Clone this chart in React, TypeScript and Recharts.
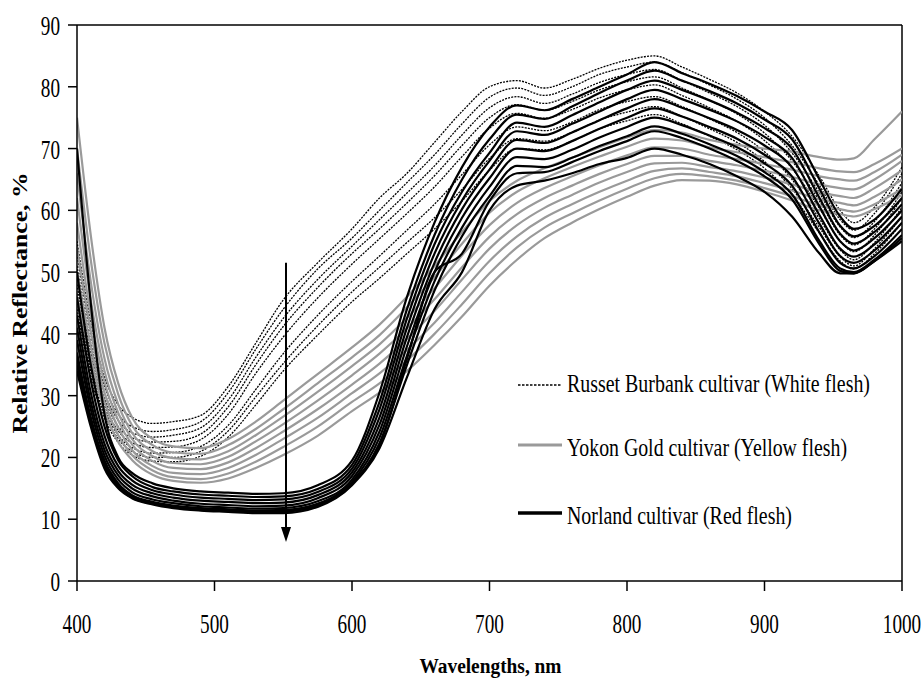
import React from "react";
import { LineChart, Line, XAxis, YAxis, ReferenceLine, Label } from "recharts";

// Wavelength grid (nm)
const WAVELENGTHS = [400, 410, 420, 430, 440, 455, 470, 490, 510, 530, 550, 575, 600, 620, 640, 660, 680, 700, 720, 740, 760, 780, 800, 820, 840, 860, 880, 900, 920, 940, 955, 965, 980, 1000];

const X_TICKS = [400, 500, 600, 700, 800, 900, 1000];
const Y_TICKS = [0, 10, 20, 30, 40, 50, 60, 70, 80, 90];

// Russet Burbank (white flesh) spectra, %
const russet = [
  [55, 42, 33, 28.5, 26.5, 25.5, 25.8, 26.8, 31.5, 38.5, 45.5, 51.5, 57, 62, 66, 71, 76, 80, 81, 79.8, 81.2, 83, 84.3, 85, 83.2, 81.2, 79, 76, 72, 65.5, 60, 58, 60.5, 67],
  [53, 40, 31.5, 27, 25, 24.2, 24.5, 25.8, 30.5, 37.5, 44, 50.5, 55.5, 60, 64.5, 69, 74, 78.3, 79.8, 78.6, 80, 82, 83.2, 84, 82.3, 80.3, 78, 75, 70.5, 64, 58.5, 56.8, 59.5, 66],
  [51, 38.5, 30.5, 26, 24, 23.3, 23.6, 24.8, 29.3, 36.2, 42.5, 48.8, 54.2, 58.5, 62.8, 67.2, 72.2, 76.6, 78.4, 77.3, 78.8, 80.7, 82, 82.8, 81, 79, 76.8, 73.8, 69.3, 62.8, 57.3, 55.6, 58.2, 64.5],
  [50, 37, 29.5, 25, 23.2, 22.5, 22.6, 23.8, 28.2, 35, 41.2, 47.5, 53, 57, 61.2, 65.6, 70.5, 75, 77.1, 76.2, 77.6, 79.5, 80.8, 81.6, 79.8, 77.8, 75.6, 72.5, 68, 61.5, 56, 54.4, 57, 63],
  [48, 36, 28.5, 24.3, 22.4, 21.6, 21.7, 22.9, 27, 33.6, 39.5, 45.8, 51.3, 55.4, 59.5, 63.8, 68.7, 73.3, 75.7, 74.9, 76.3, 78.2, 79.5, 80.3, 78.6, 76.6, 74.4, 71.3, 66.8, 60.3, 55, 53.3, 56, 62],
  [46.5, 35, 27.8, 23.6, 21.6, 20.7, 20.8, 21.8, 25.2, 31, 36.8, 43, 48.5, 52.6, 56.8, 61, 65.8, 70.6, 73.5, 72.9, 74.3, 76.3, 77.6, 78.4, 76.8, 74.8, 72.6, 69.5, 65, 58.6, 53.6, 52, 54.8, 60.5],
  [45.5, 34, 27, 23, 21, 20, 20, 21, 24.3, 29.8, 35.2, 41.3, 46.8, 50.8, 54.8, 58.8, 63.4, 68.4, 71.6, 71.2, 72.6, 74.6, 75.9, 76.8, 75.2, 73.2, 71, 67.9, 63.5, 57.2, 52.5, 51, 53.8, 59],
  [44, 33, 26.3, 22.4, 20.4, 19.4, 19.3, 20.2, 23.3, 28.5, 34, 39.8, 45.2, 49, 53, 57, 61.5, 66.5, 70, 69.8, 71.2, 73.2, 74.5, 75.5, 74, 72, 69.8, 66.8, 62.5, 56.3, 51.8, 50.5, 53, 58],
];

// Yukon Gold (yellow flesh) spectra, %
const yukon = [
  [75, 56, 41, 32, 26.5, 23, 21.8, 21.5, 23, 25.8, 29.2, 33.5, 37.8, 41.5, 46, 51, 56.5, 61.5, 64.8, 66.8, 68.5, 70.2, 71.8, 73, 72.6, 71.4, 70.6, 70, 69.5, 68.6, 68.2, 68.4, 71.5, 76],
  [70, 52, 38.5, 30.2, 25.2, 22, 20.8, 20.6, 22, 24.6, 27.8, 32, 36.2, 39.8, 44.3, 49.2, 54.6, 59.6, 63, 65.2, 67, 68.7, 70.3, 71.6, 71.3, 70.2, 69.4, 68.6, 67.8, 66.8, 66.3, 66.2, 67.5, 70],
  [66, 48.5, 36, 28.6, 24, 21, 19.9, 19.7, 21, 23.6, 26.6, 30.6, 34.8, 38.3, 42.6, 47.4, 52.7, 57.6, 61.2, 63.6, 65.5, 67.3, 68.9, 70.2, 70, 69, 68.3, 67.5, 66.6, 65.5, 65, 64.8, 66.2, 69],
  [62, 45.5, 34, 27.2, 23, 20.2, 19.1, 18.9, 20.1, 22.6, 25.4, 29.2, 33.3, 36.8, 40.9, 45.6, 50.8, 55.7, 59.4, 62, 64, 65.9, 67.5, 68.8, 68.8, 68, 67.3, 66.4, 65.4, 64.2, 63.6, 63.4, 65, 68],
  [58, 43, 32.2, 26, 22.1, 19.4, 18.3, 18.1, 19.2, 21.5, 24.2, 27.8, 31.8, 35.2, 39.2, 43.7, 48.8, 53.8, 57.6, 60.4, 62.5, 64.5, 66.2, 67.6, 67.7, 67, 66.3, 65.3, 64.2, 62.9, 62.3, 62, 63.6, 66.5],
  [54, 40.5, 30.5, 24.8, 21.2, 18.6, 17.5, 17.3, 18.3, 20.4, 23, 26.4, 30.4, 33.6, 37.4, 41.8, 46.8, 51.8, 55.8, 58.8, 61, 63, 64.8, 66.4, 66.8, 66.2, 65.5, 64.4, 63.2, 61.8, 61.2, 60.8, 62.2, 65],
  [50, 38, 29, 23.6, 20.4, 17.9, 16.8, 16.5, 17.4, 19.3, 21.7, 25, 29, 32, 35.7, 40, 44.8, 49.8, 54, 57.2, 59.5, 61.6, 63.5, 65.2, 65.9, 65.5, 64.8, 63.6, 62.3, 60.8, 60.2, 59.8, 61, 63.5],
  [46, 36, 27.5, 22.5, 19.6, 17.2, 16.2, 15.9, 16.6, 18.3, 20.4, 23.5, 27.5, 30.5, 34, 38.2, 42.8, 47.8, 52, 55.5, 58, 60.2, 62.2, 64, 64.9, 64.8, 64.2, 63, 61.6, 60, 59.4, 59, 60.2, 62.5],
];

// Norland (red flesh) spectra, %
const norland = [
  [70, 45, 27, 20, 17.5, 15.8, 15, 14.5, 14.3, 14.1, 14.2, 15.5, 19.5, 30.5, 46, 58, 67, 73.5, 77, 76.2, 78, 80, 82, 84, 82.2, 80.5, 78.5, 76, 73, 65, 59, 57, 58.5, 63.5],
  [50, 35, 25, 19.5, 17, 15.2, 14.5, 14, 13.8, 13.6, 13.7, 14.9, 18.8, 29, 44, 56, 65, 71.5, 75.5, 74.8, 76.8, 79, 81, 82.6, 81, 79.3, 77.3, 74.7, 71.5, 63.5, 57.5, 55.8, 57.5, 62],
  [46, 32.5, 23.5, 18.6, 16.3, 14.7, 14, 13.5, 13.3, 13.1, 13.2, 14.4, 18.2, 27.8, 42.5, 54.5, 63, 69.3, 74.2, 73.5, 75.4, 77.5, 79.5, 81, 79.5, 77.8, 75.8, 73.3, 70, 62, 56.2, 54.6, 56.5, 61],
  [43, 30.5, 22.2, 17.8, 15.6, 14.2, 13.5, 13, 12.8, 12.6, 12.7, 13.9, 17.6, 26.5, 41, 53, 61.6, 68, 72.8, 72.2, 74, 76, 78, 79.5, 78, 76.3, 74.4, 71.9, 68.5, 60.6, 55, 53.5, 55.5, 60],
  [41, 29, 21.2, 17.1, 15, 13.7, 13, 12.5, 12.3, 12.1, 12.2, 13.4, 17, 25.3, 39.5, 51.5, 60.2, 66.6, 71.4, 70.9, 72.6, 74.6, 76.5, 78, 76.6, 74.9, 73, 70.5, 67, 59.2, 53.8, 52.5, 54.5, 59],
  [39, 27.8, 20.3, 16.4, 14.4, 13.2, 12.6, 12.1, 11.9, 11.7, 11.8, 12.9, 16.4, 24.2, 38, 50, 58.8, 65.2, 70, 69.6, 71.2, 73.2, 75, 76.5, 75.2, 73.5, 71.6, 69, 65.5, 57.8, 52.6, 51.5, 53.5, 58],
  [37, 26.5, 19.5, 15.8, 13.9, 12.8, 12.2, 11.8, 11.6, 11.4, 11.5, 12.5, 16, 23.2, 36.5, 48.5, 57.2, 63.8, 68.6, 68.3, 69.8, 71.8, 73.5, 75, 73.8, 72.1, 70.2, 67.6, 64, 56.4, 51.5, 50.6, 52.6, 57],
  [35, 25.5, 18.7, 15.2, 13.5, 12.5, 12, 11.5, 11.3, 11.1, 11.2, 12.2, 15.7, 22.3, 35, 47, 55.8, 62.3, 67.2, 67, 68.5, 70.4, 72, 73.6, 72.4, 70.7, 68.8, 66.2, 62.6, 55, 50.6, 50, 52, 56],
  [36, 26, 19, 15.5, 13.7, 12.6, 12.1, 11.7, 11.5, 11.3, 11.4, 12.4, 15.9, 22, 36, 50, 53, 61.5, 66, 66.2, 67.8, 69.6, 71.2, 72.8, 71.7, 70, 68, 65.5, 61.8, 54.5, 50.2, 49.8, 51.8, 55.5],
  [34, 25, 18.2, 15, 13.4, 12.4, 11.8, 11.4, 11.2, 11, 11, 12, 15.5, 21.5, 33, 44, 50, 60, 64, 64.8, 66, 67.5, 68.5, 70, 69, 67.5, 65.5, 63, 59, 53, 49.8, 49.8, 51.8, 55],
];

// Arrow annotation (wavelength, from-value, to-value)
const ARROW = { x: 552, from: 51.5, to: 6.3 };

const LEGEND_ITEMS = [
  { label: "Russet Burbank cultivar (White flesh)", kind: "russet" },
  { label: "Yokon Gold cultivar (Yellow flesh)", kind: "yukon" },
  { label: "Norland cultivar (Red flesh)", kind: "norland" },
];

const data = WAVELENGTHS.map((w, i) => {
  const row: Record<string, number> = { w };
  russet.forEach((c, k) => (row["r" + k] = c[i]));
  yukon.forEach((c, k) => (row["y" + k] = c[i]));
  norland.forEach((c, k) => (row["n" + k] = c[i]));
  return row;
});

const FONT = "'Liberation Serif', 'Times New Roman', serif";

// vertically stretched text (the reference font is tall and narrow)
const tallT = (y: number, k: number) => `translate(0 ${y}) scale(1 ${k}) translate(0 ${-y})`;

const YTick = (props: any) => {
  const { x, y, payload } = props;
  const s = String(payload.value);
  const by = y + 10;
  return (
    <text x={x} y={by} transform={tallT(by, 1.45)} textAnchor="end" fontFamily={FONT} fontSize={19.2} fill="#000">{s}</text>
  );
};

const XTick = (props: any) => {
  const { x, y, payload } = props;
  const s = String(payload.value);
  const by = y + 38;
  return (
    <text x={x} y={by} transform={tallT(by, 1.45)} textAnchor="middle" fontFamily={FONT} fontSize={19.2} fill="#000">{s}</text>
  );
};

const XTitle = (props: any) => {
  const vb = props.viewBox || {};
  const by = vb.y + 92;
  return (
    <text x={vb.x + vb.width / 2 + 1} y={by} transform={tallT(by, 1.1)} textAnchor="middle" fontFamily={FONT}
      fontWeight="bold" fontSize={19.2} fill="#000" textLength={142} lengthAdjust="spacingAndGlyphs">
      Wavelengths, nm
    </text>
  );
};

const YTitle = (props: any) => {
  const vb = props.viewBox || {};
  const cx = 27;
  const cy = vb.y + vb.height / 2;
  return (
    <text x={cx} y={cy} transform={`rotate(-90 ${cx} ${cy})`} textAnchor="middle" fontFamily={FONT}
      fontWeight="bold" fontSize={22} fill="#000" textLength={261} lengthAdjust="spacingAndGlyphs">
      Relative Reflectance, %
    </text>
  );
};

const ArrowShape = (p: any) => {
  const { x1, y1, y2 } = p;
  const top = Math.min(y1, y2);
  const tip = Math.max(y1, y2);
  const x = x1;
  return (
    <g>
      <line x1={x} y1={top} x2={x} y2={tip - 12} stroke="#000" strokeWidth={2} />
      <polygon points={`${x - 5},${tip - 15} ${x + 5},${tip - 15} ${x},${tip}`} fill="#000" />
    </g>
  );
};

const legendTextWidth = [303, 280, 225];
const legendLineY = [385, 445, 513];
const legendBaseY = [392, 456, 524];

const LegendOverlay = () => (
  <svg width={922} height={685} style={{ position: "absolute", left: 0, top: 0, pointerEvents: "none" }}>
    {LEGEND_ITEMS.map((it, i) => {
      const stroke = it.kind === "yukon" ? "#9a9a9a" : "#000";
      const sw = it.kind === "russet" ? 1.4 : it.kind === "yukon" ? 3 : 3.5;
      const by = legendBaseY[i];
      return (
        <g key={it.label}>
          <line x1={518} x2={562} y1={legendLineY[i]} y2={legendLineY[i]} stroke={stroke} strokeWidth={sw}
            strokeDasharray={it.kind === "russet" ? "2.5 1.5" : undefined} />
          <text x={567} y={by} transform={tallT(by, 1.3)} fontFamily={FONT} fontSize={19.8} fill="#000"
            textLength={legendTextWidth[i]} lengthAdjust="spacingAndGlyphs">{it.label}</text>
        </g>
      );
    })}
  </svg>
);

export default function App() {
  return (
    <div style={{ position: "absolute", left: 0, top: 0, width: 922, height: 685, background: "#fff" }}>
      <LineChart width={922} height={685} data={data} margin={{ top: 25, right: 20, bottom: 0, left: 0 }}>
        <XAxis dataKey="w" type="number" domain={[400, 1000]} ticks={X_TICKS} tick={<XTick />}
          tickSize={10} tickMargin={4} height={104} axisLine={{ stroke: "#000", strokeWidth: 1.5 }}
          tickLine={{ stroke: "#000", strokeWidth: 1.5 }} allowDataOverflow>
          <Label content={<XTitle />} />
        </XAxis>
        <YAxis type="number" domain={[0, 90]} ticks={Y_TICKS} tick={<YTick />} tickSize={9} tickMargin={8}
          width={77} axisLine={{ stroke: "#000", strokeWidth: 1.5 }} tickLine={{ stroke: "#000", strokeWidth: 1.5 }}
          allowDataOverflow>
          <Label content={<YTitle />} />
        </YAxis>
        <ReferenceLine y={90} stroke="#000" strokeWidth={1.5} />
        <ReferenceLine x={1000} stroke="#000" strokeWidth={1.5} />
        {russet.map((_, k) => (
          <Line key={"r" + k} dataKey={"r" + k} type="monotone" stroke="#000" strokeWidth={1.3}
            strokeDasharray="2 1.2" dot={false} activeDot={false} isAnimationActive={false} />
        ))}
        {yukon.map((_, k) => (
          <Line key={"y" + k} dataKey={"y" + k} type="monotone" stroke="#9a9a9a" strokeWidth={2.2}
            dot={false} activeDot={false} isAnimationActive={false} />
        ))}
        {norland.map((_, k) => (
          <Line key={"n" + k} dataKey={"n" + k} type="monotone" stroke="#000" strokeWidth={2.2}
            dot={false} activeDot={false} isAnimationActive={false} />
        ))}
        <ReferenceLine segment={[{ x: ARROW.x, y: ARROW.from }, { x: ARROW.x, y: ARROW.to }]}
          shape={<ArrowShape />} />
      </LineChart>
      <LegendOverlay />
    </div>
  );
}
